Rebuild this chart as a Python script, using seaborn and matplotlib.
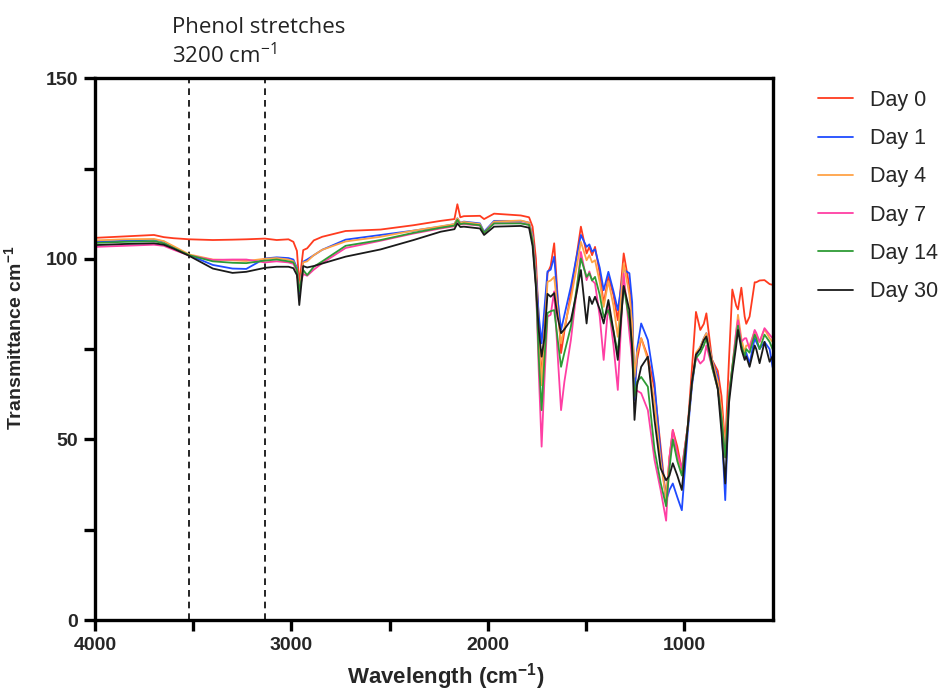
import matplotlib
matplotlib.use("Agg")
import matplotlib.pyplot as plt
from matplotlib.ticker import MultipleLocator, FixedLocator
import pandas as pd
import seaborn as sns

# FTIR spectra of the film over the ageing period
days = ["Day 0", "Day 1", "Day 4", "Day 7", "Day 14", "Day 30"]
colors = ["#FF3B1F", "#1F4BFF", "#FFA347", "#FF3FA4", "#2E9B35", "#1A1A1A"]

wavenumber = [4000, 3850, 3700, 3650, 3600, 3520, 3400, 3300, 3230, 3135, 3075,
              3015, 2990, 2972, 2960, 2940, 2920, 2886, 2843, 2724, 2546, 2378,
              2240, 2170, 2155, 2140, 2122, 2040, 2019, 1968, 1832, 1790, 1772,
              1755, 1740, 1726, 1712, 1696, 1680, 1662, 1645, 1627, 1610, 1577,
              1550, 1526, 1497, 1483, 1469, 1454, 1430, 1410, 1386, 1360, 1338,
              1308, 1279, 1265, 1253, 1240, 1219, 1185, 1151, 1120, 1092, 1075,
              1058, 1035, 1012, 982, 960, 940, 918, 900, 887, 858, 829, 810, 791,
              772, 755, 735, 726, 709, 692, 684, 667, 641, 633, 616, 591, 565, 550]

day0 = [105.8, 106.2, 106.6, 106.0, 105.7, 105.4, 105.2, 105.3, 105.4, 105.6, 105.2,
        105.4, 104.7, 102.2, 93.3, 102.4, 102.9, 105.1, 106.1, 107.7, 108.1, 109.3,
        110.5, 111.0, 115.1, 111.5, 111.8, 111.9, 111.0, 112.5, 112.0, 111.5, 108.9,
        100.0, 82.0, 66.0, 80.0, 96.0, 98.0, 104.3, 90.0, 73.9, 80.0, 90.5,
        100.0, 108.9, 101.5, 103.3, 101.0, 103.3, 96.0, 87.6, 95.0, 90.0, 83.0,
        101.5, 92.3, 85.0, 63.7, 72.0, 78.0, 72.9, 64.0, 48.0, 33.2, 45.0,
        52.6, 48.0, 41.5, 53.5, 70.0, 85.3, 80.3, 82.0, 84.9, 72.0, 69.0, 62.0, 48.0,
        72.0, 91.5, 87.0, 86.0, 92.0, 84.0, 82.0, 84.0, 93.5, 93.5, 94.0, 94.1, 93.0, 92.8]

day1 = [104.7, 105.0, 105.3, 104.8, 103.2, 101.0, 98.3, 97.3, 97.2, 100.1, 100.4,
        100.2, 99.8, 97.5, 90.5, 99.2, 99.8, 101.0, 102.5, 105.3, 106.6, 107.8,
        108.9, 109.6, 111.2, 110.0, 110.3, 109.8, 107.5, 110.5, 110.5, 110.0, 106.5,
        96.0, 84.0, 76.6, 86.0, 96.5, 97.0, 100.6, 89.0, 80.3, 84.4, 92.3,
        100.0, 106.6, 103.3, 104.0, 102.0, 102.6, 97.5, 91.3, 96.4, 91.0, 85.8,
        97.0, 96.0, 88.0, 60.9, 75.0, 82.1, 77.5, 65.5, 46.0, 33.0, 36.0,
        37.8, 34.0, 30.4, 52.0, 65.0, 73.0, 75.6, 78.0, 79.4, 72.0, 67.3, 54.0, 33.2,
        62.0, 69.2, 78.0, 82.1, 76.0, 73.0, 74.0, 71.0, 78.0, 77.0, 75.0, 77.0, 75.0, 70.0]

day4 = [105.1, 105.4, 105.5, 104.9, 103.5, 101.2, 99.8, 99.6, 99.4, 100.0, 100.2,
        99.8, 99.3, 97.0, 91.0, 99.0, 99.3, 101.0, 102.5, 104.8, 106.1, 107.8,
        109.0, 109.6, 111.2, 110.0, 110.2, 109.6, 107.2, 110.3, 110.6, 110.0, 106.0,
        95.0, 78.0, 65.0, 79.0, 93.6, 94.0, 95.0, 86.0, 76.6, 81.0, 88.8,
        97.0, 104.7, 99.6, 101.0, 99.0, 99.6, 93.5, 86.7, 93.8, 87.0, 78.4,
        98.7, 90.0, 82.0, 67.3, 74.0, 78.0, 72.0, 60.0, 44.0, 33.5, 45.0,
        50.0, 45.0, 41.5, 53.5, 66.0, 74.0, 75.6, 78.0, 79.4, 72.0, 66.0, 58.0, 48.0,
        62.0, 70.0, 80.0, 84.5, 78.0, 74.0, 76.0, 76.0, 80.0, 79.0, 77.0, 80.5, 78.0, 77.0]

day7 = [103.3, 103.6, 103.9, 103.6, 102.5, 100.9, 99.7, 99.8, 99.8, 99.0, 99.3,
        99.0, 98.6, 96.5, 91.5, 95.8, 95.3, 97.0, 98.8, 103.0, 105.0, 107.0,
        108.4, 109.0, 110.6, 109.5, 109.6, 109.2, 107.2, 109.8, 109.9, 109.4, 105.0,
        93.0, 68.0, 48.0, 66.0, 84.0, 84.5, 91.0, 74.0, 58.1, 66.0, 77.5,
        90.0, 101.9, 94.1, 96.5, 94.0, 93.2, 84.0, 72.0, 87.6, 76.0, 63.7,
        95.9, 79.4, 72.0, 64.0, 63.5, 62.8, 58.1, 44.3, 36.0, 27.5, 45.0,
        52.6, 46.0, 42.0, 53.5, 66.0, 73.0, 71.0, 72.0, 76.0, 70.0, 64.0, 56.0, 45.0,
        62.0, 70.0, 80.0, 83.0, 77.0, 78.0, 78.0, 75.0, 80.3, 79.5, 77.0, 80.8, 79.0, 78.0]

day14 = [104.4, 104.7, 104.9, 104.3, 103.0, 101.0, 99.3, 98.9, 98.8, 99.5, 99.8,
         99.3, 99.0, 97.0, 91.0, 96.9, 95.5, 97.8, 99.3, 103.6, 105.2, 107.2,
         108.6, 109.2, 110.8, 109.6, 109.8, 109.3, 107.2, 109.8, 109.8, 109.4, 105.0,
         93.0, 72.0, 58.1, 72.0, 85.0, 85.5, 85.8, 78.0, 70.1, 74.0, 81.2,
         91.0, 100.1, 95.0, 96.0, 94.0, 95.0, 90.0, 83.9, 85.8, 80.0, 73.9,
         92.3, 83.0, 76.0, 62.0, 66.0, 67.3, 64.6, 47.1, 38.0, 31.5, 42.0,
         50.0, 44.0, 40.0, 53.5, 66.0, 72.5, 74.0, 76.0, 78.0, 70.0, 64.0, 56.0, 45.0,
         62.0, 70.0, 78.0, 81.5, 76.0, 73.0, 75.0, 74.0, 79.0, 78.0, 75.0, 79.0, 77.0, 75.0]

day30 = [103.8, 104.1, 104.3, 103.9, 102.8, 100.8, 97.3, 96.1, 96.4, 97.5, 97.8,
         97.8, 97.4, 95.5, 87.2, 98.0, 97.6, 98.0, 98.7, 100.6, 102.6, 105.2,
         107.5, 108.2, 109.8, 108.8, 108.9, 108.4, 106.6, 108.9, 109.1, 108.6, 103.5,
         92.0, 80.0, 72.9, 78.0, 90.3, 89.5, 90.5, 84.0, 79.4, 80.5, 83.0,
         90.0, 96.9, 82.1, 89.5, 87.5, 89.5, 86.0, 82.1, 88.6, 80.0, 72.0,
         92.5, 85.8, 75.0, 55.4, 65.0, 70.1, 72.9, 55.4, 42.0, 38.7, 40.0,
         43.4, 40.0, 36.0, 53.5, 66.0, 73.5, 75.0, 77.5, 78.5, 71.0, 64.0, 52.0, 37.8,
         60.0, 68.0, 76.0, 80.3, 75.0, 72.0, 73.0, 70.1, 76.0, 75.0, 71.1, 77.0, 71.5, 73.0]

series = [day0, day1, day4, day7, day14, day30]

# phenol O-H stretch band edges
band_edges = [3520, 3135]

frames = []
for name, vals in zip(days, series):
    frames.append(pd.DataFrame({"Wavenumber": wavenumber,
                                "Transmittance": vals,
                                "Day": name}))
spectra = pd.concat(frames, ignore_index=True)

sns.set_theme(style="ticks")
plt.rcParams["font.family"] = ["Liberation Sans", "DejaVu Sans"]
plt.rcParams["mathtext.default"] = "regular"

fig = plt.figure(figsize=(9.41, 6.92), dpi=100)
ax = fig.add_axes([0.101, 0.104, 0.720, 0.783])

sns.lineplot(data=spectra, x="Wavenumber", y="Transmittance", hue="Day",
             hue_order=days, palette=colors, sort=False, estimator=None,
             linewidth=1.3, ax=ax)

for edge in band_edges:
    ax.axvline(edge, color="black", linestyle=(0, (4, 3)), linewidth=1.2, zorder=1)

ax.set_xlim(4000, 550)
ax.set_ylim(0, 150)
ax.xaxis.set_major_locator(FixedLocator([4000, 3000, 2000, 1000]))
ax.xaxis.set_minor_locator(FixedLocator([3500, 2500, 1500]))
ax.yaxis.set_major_locator(MultipleLocator(50))
ax.yaxis.set_minor_locator(MultipleLocator(25))

for side in ["left", "right", "top", "bottom"]:
    ax.spines[side].set_visible(True)
    ax.spines[side].set_linewidth(2.4)
    ax.spines[side].set_color("black")

ax.tick_params(axis="both", which="major", length=8, width=2.4, color="black",
               labelsize=14, pad=4)
ax.tick_params(axis="both", which="minor", length=8, width=2.4, color="black")
for lab in ax.get_xticklabels() + ax.get_yticklabels():
    lab.set_fontweight("bold")

ax.set_xlabel("Wavelength (cm$^{-1}$)", fontsize=16, fontweight="bold")
ax.xaxis.set_label_coords(0.518, -0.075)
ax.set_ylabel("Transmittance cm$^{-1}$", fontsize=14, fontweight="bold")
ax.yaxis.set_label_coords(-0.103, 0.52)

ax.text(0.183, 0.953, "Phenol stretches", transform=fig.transFigure,
        family=["Open Sans", "DejaVu Sans"], fontsize=16, color="#222222",
        ha="left", va="baseline")
ax.text(0.183, 0.9085, "3200 cm$^{-1}$", transform=fig.transFigure,
        family=["Open Sans", "DejaVu Sans"], fontsize=16, color="#222222",
        ha="left", va="baseline")

leg = ax.legend(loc="upper left", bbox_to_anchor=(1.045, 1.006), frameon=False,
                fontsize=15.5, handlelength=1.6, handletextpad=0.8,
                labelspacing=0.8, borderaxespad=0.3)
for line in leg.get_lines():
    line.set_linewidth(1.3)

fig.savefig("out.png", dpi=100)
